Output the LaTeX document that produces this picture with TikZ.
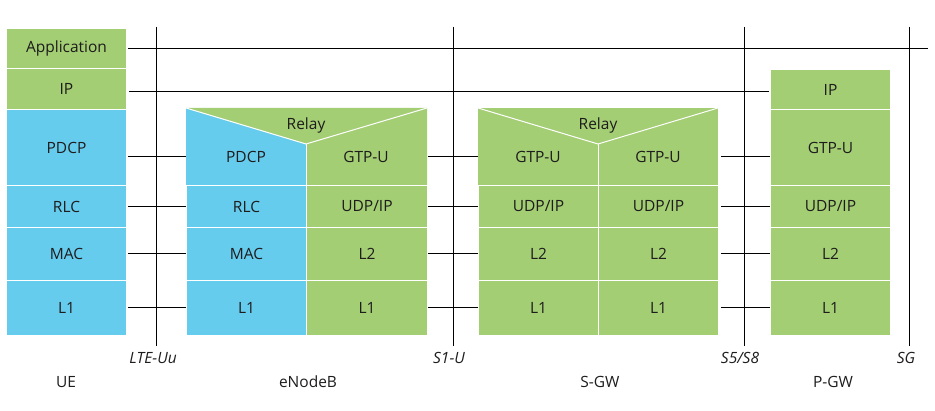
\documentclass[tikz,border=0pt]{standalone}
\usepackage{fontspec}
\setmainfont{Open Sans}
\definecolor{lgreen}{RGB}{163,206,116}
\definecolor{lblue}{RGB}{102,204,238}
\definecolor{txt}{RGB}{30,28,28}
\begin{document}
\begin{tikzpicture}[x=1pt,y=-1pt,
  lbl/.style={font=\fontsize{15.5}{17}\selectfont, text=txt},
  layer/.style={lbl, draw=white, line width=1pt, inner sep=0pt, anchor=north west, minimum width=120pt},
  gl/.style={layer, fill=lgreen},
  bl/.style={layer, fill=lblue},
  wire/.style={black, line width=1pt},
  iface/.style={font=\fontsize{15.5}{17}\selectfont\itshape, text=txt},
  ent/.style={lbl}]
\useasboundingbox (0,0) rectangle (935,411);

% UE stack
\node[gl, minimum height=40pt] (ueapp) at (6,28) {Application};
\node[gl, minimum height=41pt] (ueip) at (6,68) {IP};
\node[bl, minimum height=76pt] (uepdcp) at (6,109) {PDCP};
\node[bl, minimum height=42pt] (uerlc) at (6,185) {RLC};
\node[bl, minimum height=53pt] (uemac) at (6,227) {MAC};
\node[bl, minimum height=55pt] (uel1) at (6,280) {L1};

% eNodeB
\fill[lblue] (186,108) -- (306,144) -- (306,185) -- (186,185) -- cycle;
\fill[lgreen] (306,144) -- (427,108) -- (427,185) -- (306,185) -- cycle;
\fill[lgreen] (186,108) -- (427,108) -- (306,144) -- cycle;
\draw[white, line width=1pt] (186,108) -- (306,144) -- (427,108);
\draw[white, line width=1pt] (306,144) -- (306,185);
\node[lbl] (enbrelay) at (306,125) {Relay};
\node[lbl] (enbpdcp) at (246,157) {PDCP};
\node[lbl] (enbgtp) at (366,157) {GTP-U};
\node[bl, minimum height=42pt] (enbrlc) at (186,185) {RLC};
\node[bl, minimum height=53pt] (enbmac) at (186,227) {MAC};
\node[bl, minimum height=55pt] (enbl1) at (186,280) {L1};
\node[gl, minimum width=121pt, minimum height=42pt] (enbudp) at (306,185) {UDP/IP};
\node[gl, minimum width=121pt, minimum height=53pt] (enbl2) at (306,227) {L2};
\node[gl, minimum width=121pt, minimum height=55pt] (enbl1b) at (306,280) {L1};

% S-GW
\fill[lgreen] (478,108) -- (718,108) -- (718,185) -- (478,185) -- cycle;
\draw[white, line width=1pt] (478,108) -- (598,144) -- (718,108);
\draw[white, line width=1pt] (598,144) -- (598,185);
\node[lbl] (sgwrelay) at (598,125) {Relay};
\node[lbl] (sgwgtpa) at (538,157) {GTP-U};
\node[lbl] (sgwgtpb) at (658,157) {GTP-U};
\node[gl, minimum height=42pt] (sgwudpa) at (478,185) {UDP/IP};
\node[gl, minimum height=53pt] (sgwl2a) at (478,227) {L2};
\node[gl, minimum height=55pt] (sgwl1a) at (478,280) {L1};
\node[gl, minimum height=42pt] (sgwudpb) at (598,185) {UDP/IP};
\node[gl, minimum height=53pt] (sgwl2b) at (598,227) {L2};
\node[gl, minimum height=55pt] (sgwl1b) at (598,280) {L1};

% P-GW
\node[gl, minimum height=40pt] (pgwip) at (770,69) {IP};
\node[gl, minimum height=76pt] (pgwgtp) at (770,109) {GTP-U};
\node[gl, minimum height=42pt] (pgwudp) at (770,185) {UDP/IP};
\node[gl, minimum height=53pt] (pgwl2) at (770,227) {L2};
\node[gl, minimum height=55pt] (pgwl1) at (770,280) {L1};

% interface lines
\coordinate (uut) at (156.5,27);  \coordinate (uub) at (156.5,346);
\coordinate (s1t) at (453.5,27);  \coordinate (s1b) at (453.5,346);
\coordinate (s5t) at (744.5,27);  \coordinate (s5b) at (744.5,346);
\coordinate (sgt) at (909.5,27);  \coordinate (sgb) at (909.5,346);
\coordinate (appstart) at (128,48.5);
\coordinate (append) at (928,48.5);
\draw[wire] (uut) -- (uub);
\draw[wire] (s1t) -- (s1b);
\draw[wire] (s5t) -- (s5b);
\draw[wire] (sgt) -- (sgb);
\draw[wire] (appstart) -- (append);
\draw[wire] ([xshift=2pt]ueip.east |- 0,91.5) -- ([xshift=-1pt]pgwip.west |- 0,91.5);

% peer connectors UE - eNodeB
\draw[wire] ([xshift=1pt]uepdcp.east |- enbpdcp) -- (enbrlc.west |- enbpdcp);
\draw[wire] ([xshift=1pt]uerlc.east) -- (enbrlc.west);
\draw[wire] ([xshift=1pt]uemac.east) -- (enbmac.west);
\draw[wire] ([xshift=1pt]uel1.east) -- (enbl1.west);
% eNodeB - S-GW
\draw[wire] (enbudp.east |- enbgtp) -- (sgwudpa.west |- enbgtp);
\draw[wire] (enbudp.east) -- (sgwudpa.west);
\draw[wire] (enbl2.east) -- (sgwl2a.west);
\draw[wire] (enbl1b.east) -- (sgwl1a.west);
% S-GW - P-GW
\draw[wire] ([xshift=2pt]sgwudpb.east |- sgwgtpb) -- (pgwgtp.west |- sgwgtpb);
\draw[wire] ([xshift=2pt]sgwudpb.east) -- (pgwudp.west);
\draw[wire] ([xshift=2pt]sgwl2b.east) -- (pgwl2.west);
\draw[wire] ([xshift=2pt]sgwl1b.east) -- (pgwl1.west);

% labels
\node[iface] (luu) at (153,358) {LTE-Uu};
\node[iface] (ls1) at (449,358) {S1-U};
\node[iface] (ls5) at (740,358) {S5/S8};
\node[iface] (lsg) at (906,358) {SG};
\node[ent] (nue) at (66,382) {UE};
\node[ent] (nenb) at (308,382) {eNodeB};
\node[ent] (nsgw) at (600,382) {S-GW};
\node[ent] (npgw) at (833,382) {P-GW};
\end{tikzpicture}
\end{document}
